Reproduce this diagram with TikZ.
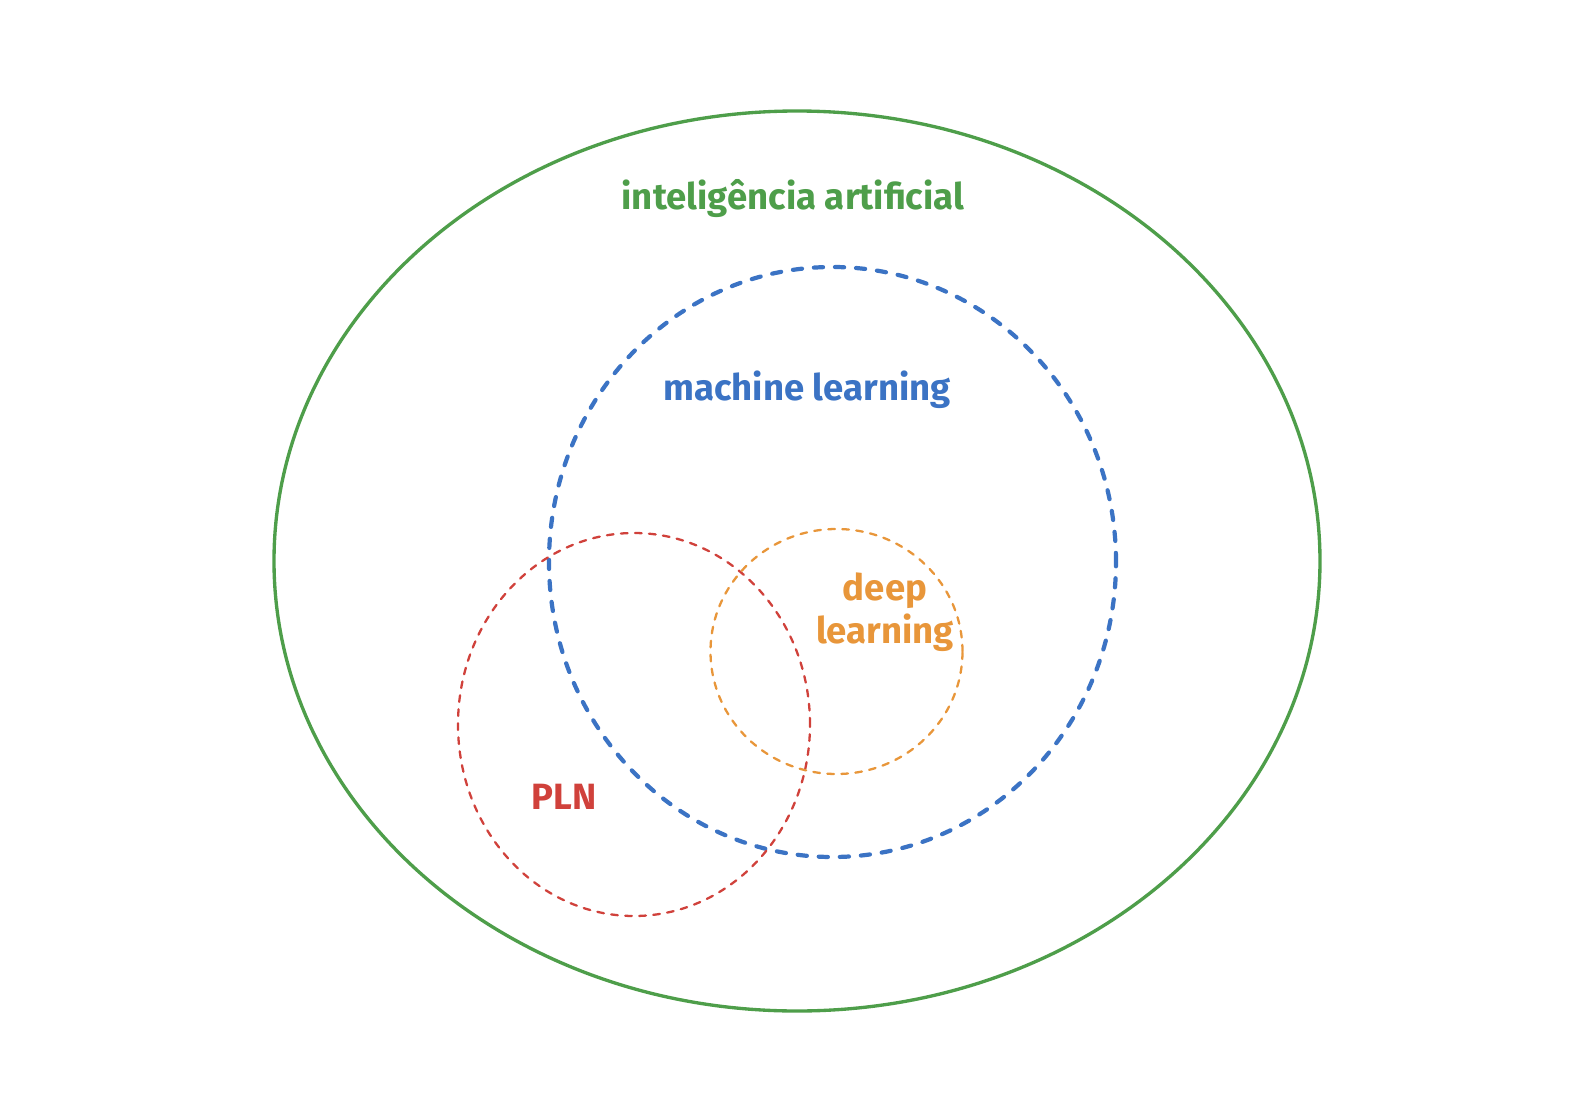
\documentclass[tikz,border=0pt]{standalone}
\usepackage{fontspec}
\setmainfont{Fira Sans}
\usetikzlibrary{shapes.geometric}
\definecolor{iagreen}{HTML}{4E9E4A}
\definecolor{mlblue}{HTML}{3B73C4}
\definecolor{plnred}{HTML}{D0413B}
\definecolor{dlorange}{HTML}{E8963A}
\tikzset{
  conj/.style={ellipse,draw,inner sep=0pt},
  tracejado/.style 2 args={line cap=round,dash pattern=on #1 off #2},
  rotulo/.style={font=\bfseries\fontsize{10.4}{12.2}\selectfont,align=center,inner sep=0pt}
}
\begin{document}
\begin{tikzpicture}
	\useasboundingbox (0,0) rectangle (15.84,11.1);

        \node at (7.97,5.49) [conj,iagreen,line width=0.95pt,minimum width=10.46cm,minimum height=9.0cm] (ia) {};
        \node at (8.325,5.48) [conj,mlblue,line width=1.2pt,tracejado={2.6pt}{3.4pt},minimum width=5.67cm,minimum height=5.9cm] (ml) {};
        \node at (6.34,3.855) [conj,plnred,line width=0.65pt,tracejado={1.9pt}{2.1pt},minimum width=3.52cm,minimum height=3.83cm] (pln) {};
        \node at (8.365,4.585) [conj,dlorange,line width=0.65pt,tracejado={1.9pt}{2.1pt},minimum width=2.52cm,minimum height=2.45cm] (dl) {};

	\node at (7.93,9.11) [rotulo,iagreen] (tia) {inteligência artificial};
	\node at (8.07,7.2) [rotulo,mlblue] (tml) {machine learning};
	\node at (8.85,4.98) [rotulo,dlorange] (tdl) {deep\\learning};
	\node at (5.64,3.13) [rotulo,plnred] (tpln) {PLN};
    \end{tikzpicture}
\end{document}
